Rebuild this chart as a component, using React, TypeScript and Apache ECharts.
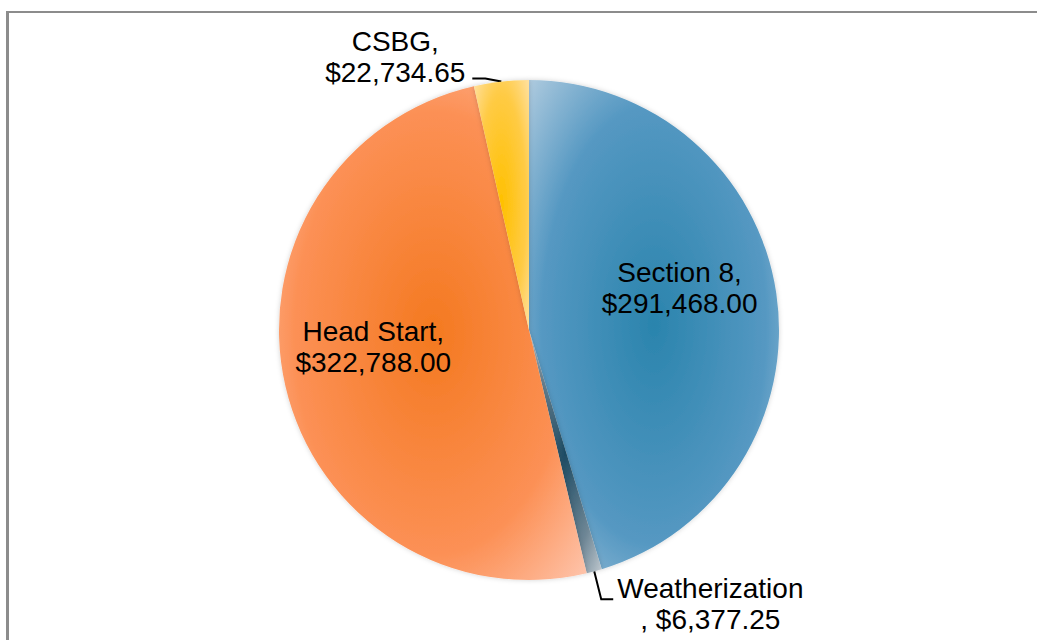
import React, { useEffect, useRef } from "react";
import * as echarts from "echarts";

const categories = ["Section 8", "Weatherization", "Head Start", "CSBG"];
const values = [291468.0, 6377.25, 322788.0, 22734.65];
const centerColors = ["#2a84ad", "#1c4a62", "#f47920", "#ffc000"];
const midColors = ["#5598c2", "#6f8796", "#fc9055", "#ffcb45"];
const edgeColors = ["#b3cde0", "#c4ccd2", "#fec8b2", "#ffe2a6"];

const fmtMoney = (v: number) =>
  "$" + v.toLocaleString("en-US", { minimumFractionDigits: 2, maximumFractionDigits: 2 });

export default function App() {
  const ref = useRef<HTMLDivElement>(null);
  useEffect(() => {
    if (!ref.current) return;
    const chart = echarts.init(ref.current, null, { renderer: "svg" });
    const data = categories.map((name, i) => ({
      name,
      value: values[i],
      itemStyle: {
        color: {
          type: "radial",
          x: 0.5,
          y: 0.5,
          r: 0.72,
          colorStops: [
            { offset: 0, color: centerColors[i] },
            { offset: 0.62, color: midColors[i] },
            { offset: 1, color: edgeColors[i] },
          ],
        },
      },
      label: {
        position: i === 0 || i === 2 ? "inside" : "outside",
      },
      labelLine: { show: !(i === 0 || i === 2) },
    }));
    chart.setOption({
      animation: false,
      backgroundColor: "#ffffff",
      graphic: [
        {
          type: "line",
          shape: { x1: 7.5, y1: 11, x2: 7.5, y2: 700 },
          style: { stroke: "#8c8c8c", lineWidth: 3 },
        },
        {
          type: "line",
          shape: { x1: 6, y1: 12, x2: 1100, y2: 12 },
          style: { stroke: "#8c8c8c", lineWidth: 2 },
        },
      ],
      series: [
        {
          type: "pie",
          center: [529, 330],
          radius: [0, 250],
          startAngle: 90,
          clockwise: true,
          avoidLabelOverlap: false,
          itemStyle: {
            borderWidth: 0,
            shadowBlur: 5,
            shadowColor: "rgba(0,0,0,0.18)",
          },
          label: {
            show: true,
            color: "#000",
            fontFamily: "Liberation Sans",
            fontSize: 28,
            lineHeight: 31,
            textBorderWidth: 0,
            align: "center",
            formatter: (p: any) =>
              p.name === "Weatherization"
                ? p.name + "\n, " + fmtMoney(p.value)
                : p.name + ",\n" + fmtMoney(p.value),
          },
          labelLine: {
            show: true,
            length: 10,
            length2: 10,
            lineStyle: { color: "#000", width: 2 },
          },
          labelLayout: (p: any) => {
            const name = categories[p.dataIndex];
            const w = p.labelRect.width;
            if (name === "Section 8") return { dx: 24, dy: -23 };
            if (name === "Head Start") return { dx: -31, dy: -12 };
            const pts = p.labelLinePoints;
            if (!pts) return {};
            const p0 = pts[0];
            if (name === "CSBG") {
              const p1 = [p0[0] - 16, p0[1] - 3];
              const p2 = [p1[0] - 13, p1[1]];
              return {
                x: p2[0] - 7 - w / 2,
                y: p2[1] + 9,
                align: "center",
                verticalAlign: "bottom",
                labelLinePoints: [p0, p1, p2],
              };
            }
            const p1 = [p0[0] + 7, p0[1] + 28];
            const p2 = [p1[0] + 12, p1[1]];
            return {
              x: p2[0] + 4 + w / 2,
              y: p2[1] + 5,
              align: "center",
              verticalAlign: "middle",
              labelLinePoints: [p0, p1, p2],
            };
          },
          data,
        },
      ],
    });
    return () => chart.dispose();
  }, []);
  return (
    <div
      ref={ref}
      style={{ position: "fixed", left: 0, top: 0, width: 1037, height: 640 }}
    />
  );
}
